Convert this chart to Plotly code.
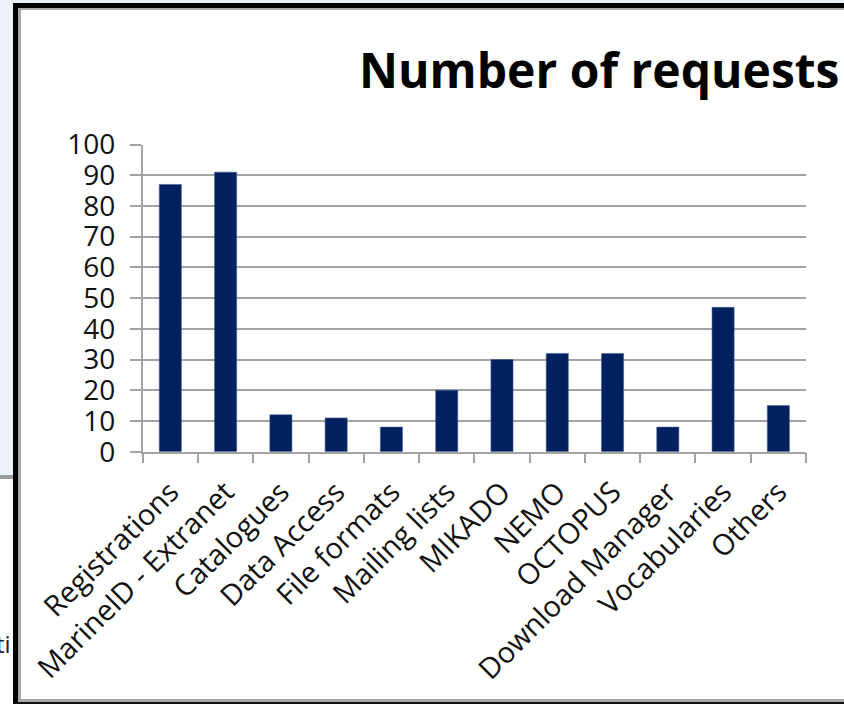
import plotly.graph_objects as go

categories = ["Registrations", "MarineID - Extranet", "Catalogues", "Data Access",
              "File formats", "Mailing lists", "MIKADO", "NEMO", "OCTOPUS",
              "Download Manager", "Vocabularies", "Others"]
requests = [87, 91, 12, 11, 8, 20, 30, 32, 32, 8, 47, 15]
y_ticks = [0, 10, 20, 30, 40, 50, 60, 70, 80, 90, 100]
title_text = "Number of requests"

W, H = 844, 704


def px(x):
    return x / W


def py(y):
    return 1 - y / H


GRID = "#a3a3a3"
FONT = "Open Sans"

fig = go.Figure()
fig.add_trace(go.Bar(
    x=categories, y=requests,
    marker=dict(color="#002060", line=dict(color="#4a5f8f", width=0.6)),
    hoverinfo="x+y",
))


def rect(x0, x1, y0, y1, color):
    return dict(type="rect", xref="paper", yref="paper",
                x0=px(x0), x1=px(x1), y0=py(y1), y1=py(y0),
                fillcolor=color, line=dict(width=0), layer="below")


shapes = [
    rect(0, 14, 0, 476, "#edf1fa"),
    rect(0, 844, 0, 3, "#edf1fa"),
    rect(0, 14, 475, 479, "#9a9a9a"),
    rect(13, 18, 3, 704, "#000000"),
    rect(13, 844, 3, 8, "#000000"),
    rect(13, 844, 702, 704, "#111111"),
    rect(18, 21, 8, 702, "#a8a8a8"),
    rect(18, 844, 8, 10, "#a8a8a8"),
    rect(18, 844, 699, 702, "#a8a8a8"),
]

annotations = [
    dict(text="<b>" + title_text + "</b>", x=px(599), y=py(70), xref="paper", yref="paper",
         xanchor="center", yanchor="middle", showarrow=False,
         font=dict(family=FONT, size=48, color="#000000")),
    dict(text="ti", x=px(13), y=py(643), xref="paper", yref="paper",
         xanchor="right", yanchor="middle", showarrow=False,
         font=dict(family=FONT, size=24, color="#222222")),
]

fig.update_layout(
    width=W, height=H,
    margin=dict(l=0, r=0, t=0, b=0, autoexpand=False),
    paper_bgcolor="#ffffff",
    plot_bgcolor="rgba(0,0,0,0)",
    showlegend=False,
    bargap=0.6,
    shapes=shapes,
    annotations=annotations,
    xaxis=dict(
        domain=[px(142.7), px(806)],
        type="category",
        automargin=False,
        tickangle=-45,
        tickson="boundaries",
        ticks="outside", ticklen=10, tickcolor=GRID, tickwidth=1.5,
        ticklabelstandoff=10,
        showline=True, linecolor=GRID, linewidth=1.5,
        showgrid=False,
        tickfont=dict(family=FONT, size=29, color="#111111"),
        fixedrange=True,
    ),
    yaxis=dict(
        domain=[py(451.7), py(144.5)],
        range=[0, 100],
        automargin=False,
        tickvals=y_ticks,
        ticks="outside", ticklen=11, tickcolor=GRID, tickwidth=1.5,
        ticklabelstandoff=9,
        showline=True, linecolor=GRID, linewidth=1.5,
        showgrid=True, gridcolor=GRID, gridwidth=1.5,
        zeroline=False,
        tickfont=dict(family=FONT, size=28, color="#111111"),
        fixedrange=True,
    ),
)

fig.write_html("out.html")
